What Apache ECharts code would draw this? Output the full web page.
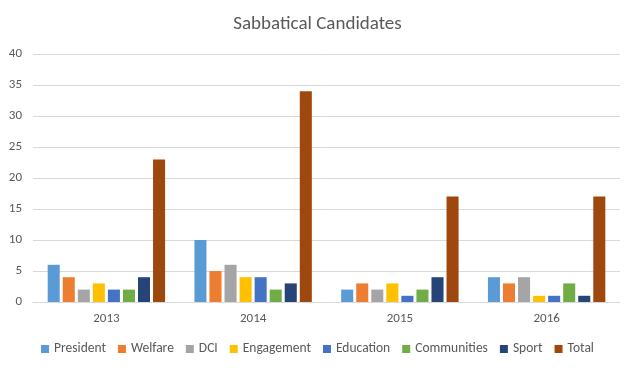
<!DOCTYPE html>
<html><head><meta charset="utf-8">
<script src="https://cdn.jsdelivr.net/npm/echarts@6/dist/echarts.min.js"></script>
<style>html,body{margin:0;padding:0;background:#fff}#c{width:635px;height:370px}</style>
</head><body><div id="c"></div>
<script>
const categories = ['2013', '2014', '2015', '2016'];
const seriesNames = ['President', 'Welfare', 'DCI', 'Engagement', 'Education', 'Communities', 'Sport', 'Total'];
const President = [6, 10, 2, 4];
const Welfare = [4, 5, 3, 3];
const DCI = [2, 6, 2, 4];
const Engagement = [3, 4, 3, 1];
const Education = [2, 4, 1, 1];
const Communities = [2, 2, 2, 3];
const Sport = [4, 3, 4, 1];
const Total = [23, 34, 17, 17];
const values = [President, Welfare, DCI, Engagement, Education, Communities, Sport, Total];
const colors = ['#5B9BD5', '#ED7D31', '#A5A5A5', '#FFC000', '#4472C4', '#70AD47', '#264478', '#9E480E'];

const chart = echarts.init(document.getElementById('c'), null, {renderer: 'canvas'});
const font = 'Calibri, Carlito, "Open Sans", sans-serif';
chart.setOption({
  animation: false,
  color: colors,
  title: {
    text: 'Sabbatical Candidates', left: 'center', top: 10,
    textStyle: {fontFamily: font, fontSize: 19, fontWeight: 'normal', color: '#595959'}
  },
  legend: {
    bottom: 9, left: 'center', itemWidth: 8, itemHeight: 8, itemGap: 12,
    icon: 'rect',
    textStyle: {fontFamily: font, fontSize: 13.5, color: '#595959'},
    data: seriesNames
  },
  grid: {left: 33, right: 15, top: 54, bottom: 68},
  xAxis: {
    type: 'category', data: categories,
    axisLine: {lineStyle: {color: '#D9D9D9'}},
    axisTick: {show: false},
    axisLabel: {fontFamily: font, fontSize: 13, color: '#595959', margin: 10}
  },
  yAxis: {
    type: 'value', min: 0, max: 40, interval: 5,
    axisLine: {show: false}, axisTick: {show: false},
    splitLine: {lineStyle: {color: '#D9D9D9'}},
    axisLabel: {fontFamily: font, fontSize: 13, color: '#595959', margin: 11}
  },
  series: seriesNames.map((n, i) => ({
    name: n, type: 'bar', data: values[i],
    barGap: '25%', barCategoryGap: '20%'
  }))
});
</script></body></html>
